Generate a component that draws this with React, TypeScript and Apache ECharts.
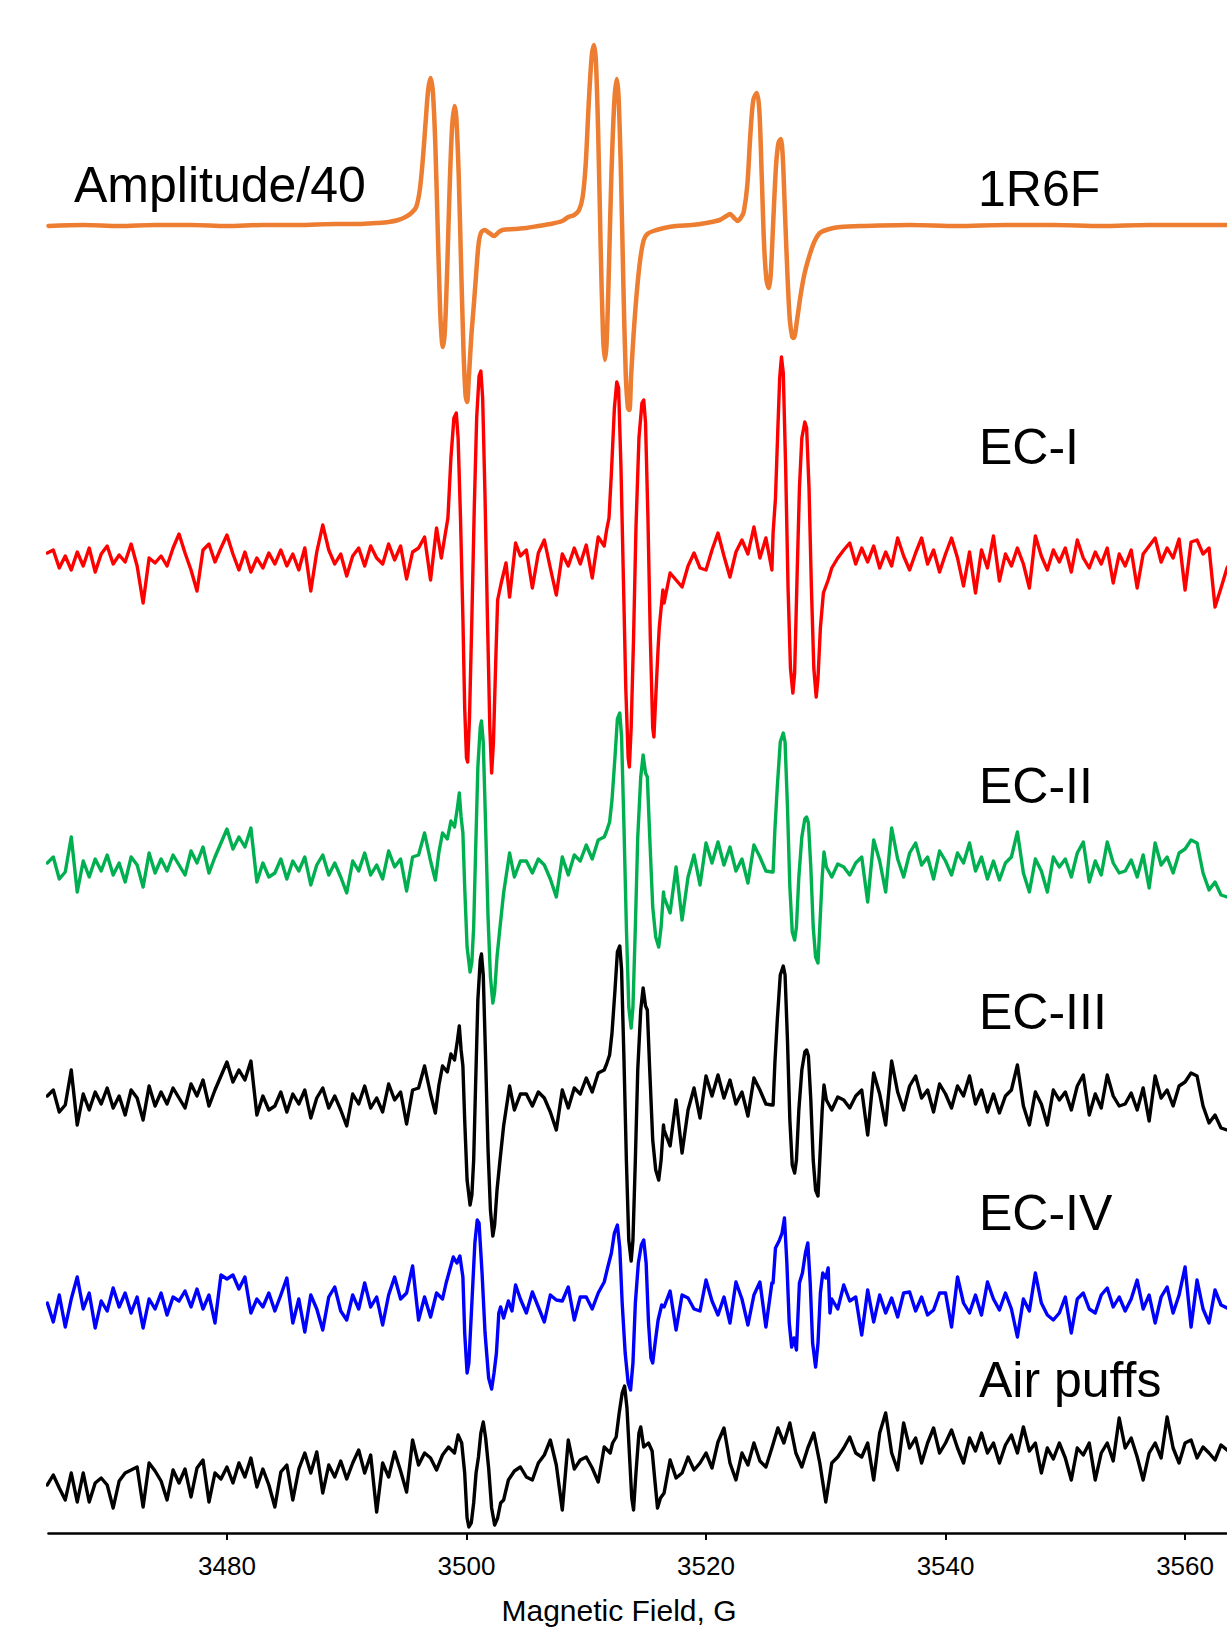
import React, { useEffect, useRef } from "react";
import * as echarts from "echarts";

// ---- sampling grid of the noisy spectra (magnetic field, G) ----
const FIELD_START = 3465;
const FIELD_STEP = 0.5;
const X_MIN = 3465.1;
const X_MAX = 3563.5;
const TICK_VALUES = [3480, 3500, 3520, 3540, 3560];
const X_TITLE = "Magnetic Field, G";

const SERIES_NAMES = ["1R6F", "EC-I", "EC-II", "EC-III", "EC-IV", "Air puffs"];
const TRACE_LABELS = ["1R6F", "EC-I", "EC-II", "EC-III", "EC-IV", "Air puffs"];
const AMPLITUDE_NOTE = "Amplitude/40";

// ---- 1R6F (smooth reference spectrum, amplitude/40) [field, signal] ----
const orangeTrace = [
  [3465.1,-1],[3468,0],[3471,-1],[3474,0],[3477,0],[3480,-1],[3483,0],[3486,0],[3489,1],[3491,1],
  [3492.5,2],[3493.5,3],[3494.3,5],[3494.9,8],[3495.4,12],[3495.8,18],[3496.1,35],[3496.35,65],[3496.6,105],[3496.8,135],
  [3497.0,147],[3497.2,132],[3497.4,80],[3497.6,-5],[3497.8,-85],[3497.95,-117],[3498.05,-122],[3498.2,-105],[3498.4,-40],[3498.6,40],
  [3498.8,98],[3499.0,119],[3499.15,108],[3499.35,50],[3499.55,-40],[3499.75,-125],[3499.92,-170],[3500.05,-177],[3500.2,-152],[3500.4,-112],
  [3500.6,-82],[3500.8,-50],[3501.0,-20],[3501.2,-8],[3501.5,-5],[3501.9,-8],[3502.3,-11],[3502.7,-7],[3503.0,-5],[3504,-4],
  [3505,-3],[3506,-1],[3507,1],[3508,4],[3508.5,8],[3509.0,10],[3509.4,15],[3509.7,28],[3509.95,60],[3510.2,120],
  [3510.45,168],[3510.63,180],[3510.8,165],[3511.0,90],[3511.2,-20],[3511.4,-110],[3511.55,-135],[3511.7,-118],[3511.9,-40],[3512.1,50],
  [3512.35,125],[3512.55,146],[3512.7,128],[3512.9,50],[3513.1,-60],[3513.3,-150],[3513.48,-183],[3513.6,-185],[3513.75,-150],[3513.95,-110],
  [3514.2,-70],[3514.5,-35],[3514.8,-15],[3515.1,-9],[3515.6,-6],[3516.5,-3],[3517.5,-1],[3518.8,0],[3520,2],[3521.15,5],
  [3521.7,9],[3522.0,11],[3522.35,7],[3522.65,4],[3522.95,8],[3523.15,13],[3523.45,40],[3523.7,90],[3523.95,125],[3524.24,132],
  [3524.45,115],[3524.65,50],[3524.85,-20],[3525.05,-55],[3525.24,-63],[3525.4,-50],[3525.6,0],[3525.85,60],[3526.05,82],[3526.24,86],
  [3526.4,70],[3526.6,10],[3526.8,-50],[3527.0,-95],[3527.2,-112],[3527.33,-113],[3527.6,-95],[3527.9,-70],[3528.2,-50],[3528.5,-36],
  [3529.0,-18],[3529.5,-8],[3530.3,-4],[3531.2,-2],[3533,-1],[3537,0],[3541,-1],[3545,0],[3549,0],[3553,-1],
  [3557,0],[3561,0],[3563.5,0],
];

// ---- EC-I (red) ----
const ec1Base = [
  5, 8, -10, 2, -12, 6, -8, 10, -14, 4,
  12, -6, 3, -4, 14, -8, -45, 0, -5, 2,
  -8, 10, 24, 5, -12, -33, 8, 14, -4, 10,
  23, 4, -12, 6, -14, 0, -10, 5, -6, 8,
  -8, 4, -12, 10, -33, 6, 33, 8, -6, 4,
  -18, 2, 10, -8, 12, 0, -6, 14, -2, 12,
  -21, 6, 10, 21, -22, 0, 0, 0, 0, 0,
  0, 0, 0, 0, 0, 0, 0, 0, 0, 2,
  8, -30, 5, 18, -10, -37, 4, -8, 10, -6,
  13, -20, 21, 12, 0, 0, 0, 0, 0, 0,
  0, 0, 0, -45, -15, -22, -29, -8, 5, -10,
  -12, 8, 25, 2, -19, 6, 18, 4, 31, 0,
  20, -12, 0, 0, 0, 0, 0, 0, 0, 0,
  0, -10, 0, 8, 15, -6, 10, -4, 12, -10,
  6, -8, 20, 2, -12, 5, 20, -6, 8, -14,
  4, 20, 0, -28, 6, -35, 8, -10, 22, -23,
  4, -8, 10, -6, -30, 22, 2, -12, 8, -4,
  10, -14, 18, 0, -10, 6, -6, 10, -25, 4,
  -8, 8, -30, 4, 12, 20, -4, 10, 0, 19,
  -32, 16, 18, 4, 10, -49, -30, -10, 0, 0,
];
const ec1Line1 = [
  [3497.5,30],[3497.9,0],[3498.2,22],[3498.45,40],[3498.7,100],[3498.95,140],[3499.15,145],[3499.3,120],[3499.5,40],[3499.7,-60],
  [3499.85,-150],[3500.0,-200],[3500.1,-204],[3500.25,-160],[3500.45,-60],[3500.65,50],[3500.85,140],[3501.05,182],[3501.2,187],[3501.35,160],
  [3501.55,60],[3501.75,-60],[3501.95,-170],[3502.1,-215],[3502.25,-185],[3502.45,-100],[3502.6,-42],[3502.9,-25],[3503.3,-5],[3503.6,-39],[3504.1,15],
];
const ec1Line2 = [
  [3511.7,28],[3511.9,40],[3512.1,85],[3512.35,150],[3512.55,176],[3512.7,170],[3512.9,90],[3513.1,-20],[3513.3,-130],[3513.5,-200],
  [3513.6,-209],[3513.75,-170],[3513.95,-80],[3514.15,30],[3514.4,120],[3514.65,155],[3514.8,158],[3514.95,135],[3515.15,40],[3515.35,-80],
  [3515.55,-170],[3515.65,-179],[3515.8,-140],[3516.0,-90],[3516.1,-69],[3516.4,-32],
];
const ec1Line3 = [
  [3525.6,25],[3525.8,60],[3526.0,130],[3526.15,180],[3526.3,201],[3526.45,185],[3526.65,90],[3526.85,-30],[3527.05,-110],[3527.25,-135],
  [3527.4,-115],[3527.6,-20],[3527.8,70],[3528.0,120],[3528.25,136],[3528.4,130],[3528.6,70],[3528.8,-30],[3529.0,-110],[3529.2,-139],
  [3529.35,-120],[3529.55,-70],[3529.8,-35],[3530.2,-22],
];

// ---- EC-II (green); EC-III (black) is the same trace in the picture ----
const ec2Base = [
  4, 10, -12, -5, 30, -25, 6, -10, 8, -4,
  12, -8, 4, -15, 10, 2, -20, 14, -6, 8,
  -4, 12, 2, -8, 16, 4, 20, -6, 10, 24,
  38, 18, 30, 20, 39, -15, 4, -10, -6, 8,
  -12, 6, -4, 10, -18, 2, 12, -8, 4, -10,
  -26, 6, -4, 14, -8, 2, -12, 16, 0, 8,
  -24, 10, 12, 34, 6, 0, 0, 0, 0, 0,
  0, 0, 0, 0, 0, 0, 0, 0, 0, 6,
  6, -6, 8, 2, -12, -30, 10, -8, 12, 6,
  22, 8, 27, 30, 0, 0, 0, 0, 0, 0,
  0, 0, 0, -30, -46, 0, -53, -10, 12, -18,
  24, 4, 25, 2, 20, -4, 8, -16, 22, 10,
  -4, -5, 0, 0, 0, 0, 0, 0, 0, 0,
  0, -10, 3, 0, -8, 4, 10, -35, 27, 6,
  -25, 39, 8, -10, 14, 24, 2, 10, -12, 16,
  6, -8, 14, 4, 24, -4, 10, -12, 6, -13,
  4, 10, 35, -6, -25, 8, -4, -25, 10, 0,
  8, -10, 14, 25, -15, 6, -8, 25, 4, -6,
  -4, 7, -10, 12, -21, 24, 2, 10, -6, 14,
  18, 27, 24, -6, -23, -15, -28, -30, -28, -28,
];
const ec2Line1 = [
  [3497.4,-13],[3497.7,15],[3498.0,34],[3498.4,28],[3498.7,46],[3499.0,40],[3499.25,60],[3499.4,74],[3499.55,50],[3499.7,34],
  [3499.85,-20],[3500.05,-80],[3500.3,-105],[3500.45,-95],[3500.6,-60],[3500.75,10],[3500.95,100],[3501.15,140],[3501.25,146],[3501.4,125],
  [3501.6,40],[3501.8,-50],[3502.0,-110],[3502.2,-136],[3502.35,-125],[3502.55,-90],[3502.8,-60],[3503.1,-26],[3503.6,14],[3504.0,-10],
];
const ec2Line2 = [
  [3511.7,36],[3511.95,45],[3512.15,67],[3512.4,110],[3512.6,148],[3512.8,154],[3512.95,130],[3513.15,40],[3513.35,-60],[3513.55,-140],
  [3513.75,-161],[3513.9,-140],[3514.1,-60],[3514.3,30],[3514.55,90],[3514.75,112],[3514.95,94],[3515.1,90],[3515.3,30],[3515.55,-40],
  [3515.8,-70],[3516.05,-80],[3516.25,-60],[3516.45,-25],
];
const ec2Line3 = [
  [3525.6,-5],[3525.75,37],[3525.95,80],[3526.2,125],[3526.45,134],[3526.6,125],[3526.8,60],[3527.0,-20],[3527.2,-65],[3527.4,-73],
  [3527.55,-60],[3527.75,-10],[3528.0,30],[3528.25,48],[3528.4,50],[3528.55,44],[3528.75,0],[3528.95,-60],[3529.15,-90],[3529.35,-96],
  [3529.5,-60],[3529.7,-10],[3529.85,15],[3530.05,0],
];

// ---- EC-IV (blue) ----
const ec4Base = [
  0, -19, 8, -24, 4, 26, -6, 10, -25, 2,
  -8, 15, -4, 10, -10, 6, -25, 4, -6, 10,
  -12, 6, 2, 12, -4, 14, -6, 8, -20, 28,
  24, 28, 14, 26, -10, 4, -4, 10, -8, 8,
  25, -20, 4, -29, 8, -6, -27, 6, 16, -8,
  -17, 8, -6, 20, -4, 6, -22, 8, 26, 4,
  10, 37, -17, 6, -14, 10, 4, 0, 0, 0,
  0, 0, 0, 0, 0, 0, 0, 0, 0, 4,
  -10, 11, -4, -19, 8, 3, 2, 16, -17, 6,
  6, -6, 10, 21, 0, 0, 0, 0, 0, 0,
  0, 0, 0, -4, 12, -27, 8, 5, -6, -8,
  23, 2, -12, 6, -20, 21, 4, -22, 8, 21,
  -24, 20, 0, 0, 0, 0, 0, 0, 0, 0,
  0, 4, -6, 18, 2, 6, -32, 13, -19, 8,
  -10, 5, -14, 10, 11, -8, 6, -12, -7, 10,
  10, -24, 26, 0, -10, 8, -12, 21, 4, -7,
  10, -6, -34, 4, -8, 30, 0, -12, -17, -10,
  6, -30, 4, 10, -6, -10, 8, 15, -4, 6,
  -8, 4, 23, -6, 8, -20, 6, 16, -10, 8,
  36, -24, 23, -6, -20, 13, -2, -5, 0, 0,
];
const ec4Line1 = [
  [3498.3,20],[3498.6,33],[3498.9,46],[3499.2,40],[3499.45,47],[3499.7,26],[3499.85,-30],[3500.05,-70],[3500.2,-60],[3500.45,0],
  [3500.7,60],[3500.9,83],[3501.05,80],[3501.3,30],[3501.55,-30],[3501.85,-75],[3502.1,-86],[3502.3,-70],[3502.5,-50],[3502.7,-10],
  [3502.85,-4],[3503.1,-15],[3503.5,2],[3503.8,-8],[3504.1,18],
];
const ec4Line2 = [
  [3511.8,36],[3512.1,50],[3512.35,70],[3512.6,78],[3512.8,55],[3513.0,0],[3513.25,-50],[3513.5,-80],[3513.7,-87],[3513.9,-60],
  [3514.1,0],[3514.35,40],[3514.6,58],[3514.8,63],[3515.0,40],[3515.2,-20],[3515.4,-55],[3515.55,-60],[3515.75,-40],[3516.0,-17],[3516.3,-2],
];
const ec4Line3 = [
  [3525.6,20],[3525.8,55],[3526.1,62],[3526.35,70],[3526.55,85],[3526.75,40],[3526.95,-20],[3527.15,-44],[3527.35,-35],[3527.55,-47],
  [3527.8,20],[3528.05,30],[3528.3,50],[3528.5,60],[3528.7,20],[3528.9,-40],[3529.15,-64],[3529.35,-40],[3529.55,10],[3529.75,30],
  [3530.0,25],[3530.2,35],[3530.35,-10],
];

// ---- Air puffs (black, bottom) ----
const airBase = [
  -12, -2, -15, -27, 0, -29, 0, -29, -10, -5,
  -12, -35, -8, 0, 3, 6, -34, 10, 2, -8,
  -27, 3, -10, 4, -24, 5, 13, -29, 0, -6,
  6, -10, 10, -4, 15, -14, 4, -12, -34, 1,
  8, -27, 4, 20, 0, 21, -20, 8, -4, 12,
  -6, 10, 23, 0, 18, -39, 10, -4, 21, 2,
  -19, 33, 8, 20, 15, 3, 18, 26, 0, 0,
  0, 0, 0, 0, 0, 0, 0, -7, 2, 6,
  -4, -7, 10, 18, 33, 8, -37, 33, 4, 13,
  16, 5, -9, 26, 20, 0, 0, 0, 0, 0,
  0, 0, 0, 0, 13, -5, 0, 16, 3, 10,
  20, 5, 31, 45, 10, -7, 20, 8, 30, 12,
  6, 25, 45, 30, 50, 20, 6, 25, 40, 10,
  -29, 10, 16, 25, 36, 20, 16, 30, -7, 40,
  60, 20, 3, 50, 25, 35, 10, 30, 45, 20,
  30, 43, 25, 10, 35, 22, 40, 20, 30, 10,
  28, 38, 20, 46, 22, 30, 0, 25, 14, 30,
  15, -7, 25, 18, 30, -7, 20, 30, 12, 55,
  25, 35, 16, -7, 20, 30, 15, 56, 25, 10,
  30, 33, 15, 26, 20, 13, 28, 23, 20, 20,
];
const airLine1 = [
  [3499.0,20],[3499.3,38],[3499.6,30],[3499.85,0],[3500.05,-45],[3500.2,-54],[3500.4,-50],[3500.6,-30],[3500.8,0],[3501.0,16],
  [3501.2,40],[3501.4,51],[3501.6,35],[3501.85,5],[3502.1,-35],[3502.35,-52],[3502.6,-45],[3502.85,-30],[3503.1,-27],
];
const airLine2 = [
  [3512.2,30],[3512.5,36],[3512.75,60],[3513.0,80],[3513.2,87],[3513.4,65],[3513.6,20],[3513.8,-25],[3513.95,-37],[3514.15,0],
  [3514.4,40],[3514.55,46],[3514.8,26],[3515.2,30],[3515.5,22],[3515.75,-10],[3515.95,-35],[3516.2,-25],[3516.5,-20],
];

// ---- layout / style (not data) ----
const W = 1227;
const H = 1630;
const AXIS_Y = 1533; // px from top of the x-axis line
const OFFSETS = [1308, 975, 666, 433, 230, 60];
const COLORS = ["#ED7D31", "#FF0000", "#00B050", "#000000", "#0000FF", "#000000"];
const WIDTHS = [4.5, 3.4, 3.4, 3.4, 3.4, 3.4];
const LABEL_POS = [
  [978, 189],
  [979, 447],
  [979, 786],
  [979, 1012],
  [979, 1213],
  [979, 1380],
];
const FONT = '"Liberation Sans", Arial, Helvetica, sans-serif';

function build(base: number[], lines: number[][][], offset: number) {
  const windows = lines.map((l) => [l[0][0], l[l.length - 1][0]]);
  const pts: number[][] = [];
  base.forEach((v, i) => {
    const g = FIELD_START + i * FIELD_STEP;
    const inside = windows.some(([a, b]) => g >= a - 1e-9 && g <= b + 1e-9);
    if (!inside) pts.push([g, v]);
  });
  lines.forEach((l) => l.forEach((p) => pts.push([p[0], p[1]])));
  pts.sort((a, b) => a[0] - b[0]);
  return pts.map(([g, v]) => [g, v + offset]);
}

export default function App() {
  const ref = useRef<HTMLDivElement>(null);
  useEffect(() => {
    if (!ref.current) return;
    const chart = echarts.init(ref.current, null, { renderer: "svg" });
    const datasets = [
      orangeTrace.map(([g, v]) => [g, v + OFFSETS[0]]),
      build(ec1Base, [ec1Line1, ec1Line2, ec1Line3], OFFSETS[1]),
      build(ec2Base, [ec2Line1, ec2Line2, ec2Line3], OFFSETS[2]),
      build(ec2Base, [ec2Line1, ec2Line2, ec2Line3], OFFSETS[3]),
      build(ec4Base, [ec4Line1, ec4Line2, ec4Line3], OFFSETS[4]),
      build(airBase, [airLine1, airLine2], OFFSETS[5]),
    ];
    const series = datasets.map((d, i) => ({
      name: SERIES_NAMES[i],
      type: "line",
      data: d,
      showSymbol: false,
      symbol: "none",
      smooth: i === 0 ? 0.3 : false,
      lineStyle: { color: COLORS[i], width: WIDTHS[i], join: "round", cap: "round" },
      itemStyle: { color: COLORS[i] },
      z: 2 + i,
    }));
    const graphics: any[] = TRACE_LABELS.map((t, i) => ({
      type: "text",
      x: LABEL_POS[i][0],
      y: LABEL_POS[i][1],
      z: 100,
      style: { text: t, fontSize: 50, fontFamily: FONT, fill: "#000", verticalAlign: "middle", align: "left" },
    }));
    graphics.push({
      type: "text",
      x: 74,
      y: 185,
      z: 100,
      style: { text: AMPLITUDE_NOTE, fontSize: 50, fontFamily: FONT, fill: "#000", verticalAlign: "middle", align: "left" },
    });
    graphics.push({
      type: "text",
      x: 619,
      y: 1610,
      z: 100,
      style: { text: X_TITLE, fontSize: 30, fontFamily: FONT, fill: "#000", verticalAlign: "middle", align: "center" },
    });
    chart.setOption({
      animation: false,
      backgroundColor: "#ffffff",
      grid: { left: 48.5, right: 0, top: 0, bottom: H - AXIS_Y, containLabel: false },
      xAxis: {
        type: "value",
        min: X_MIN,
        max: X_MAX,
        splitLine: { show: false },
        axisLine: { show: true, onZero: false, lineStyle: { color: "#000", width: 2.6 } },
        axisTick: { show: true, length: 7, customValues: TICK_VALUES, lineStyle: { color: "#000", width: 2 } },
        axisLabel: {
          show: true,
          customValues: TICK_VALUES,
          formatter: (v: number) => String(Math.round(v)),
          margin: 20,
          fontSize: 26,
          fontFamily: FONT,
          color: "#000",
        },
      },
      yAxis: { type: "value", min: 0, max: AXIS_Y, show: false },
      series,
      graphic: graphics,
    });
    return () => chart.dispose();
  }, []);
  return (
    <div
      ref={ref}
      style={{ position: "absolute", left: 0, top: 0, width: W, height: H, background: "#fff" }}
    />
  );
}
